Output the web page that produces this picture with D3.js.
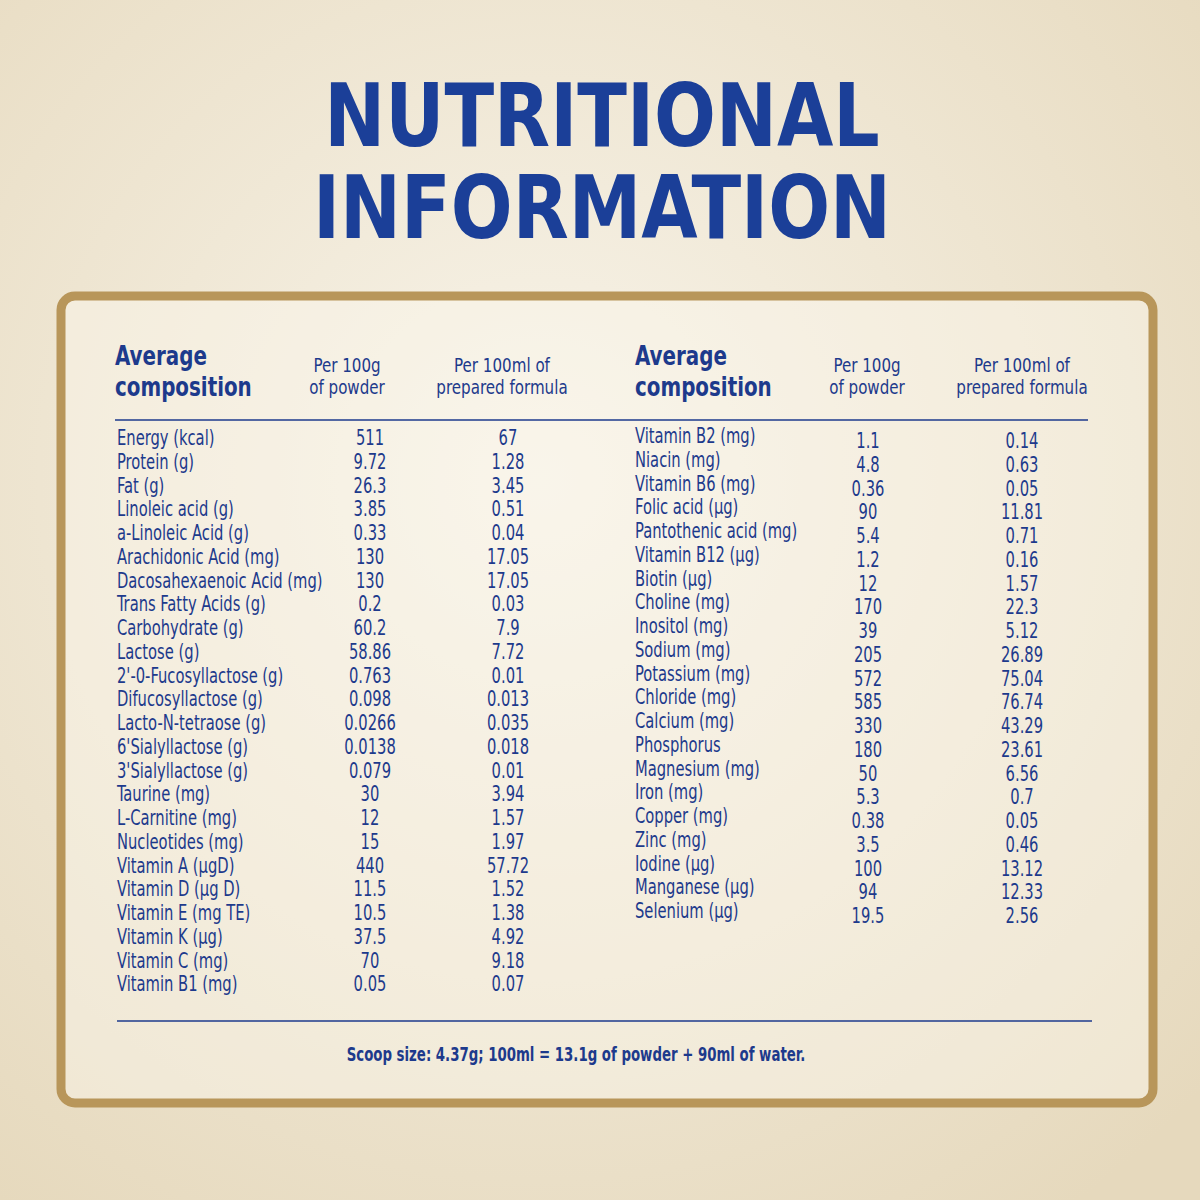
<!DOCTYPE html>
<html><head><meta charset="utf-8">
<script src="https://cdn.jsdelivr.net/npm/d3@7"></script>
<style>body{margin:0;background:#efe7d6}</style>
</head><body><div id="chart"></div>
<script>
// data
var leftNames = ["Energy (kcal)","Protein (g)","Fat (g)","Linoleic acid (g)","a-Linoleic Acid (g)","Arachidonic Acid (mg)","Dacosahexaenoic Acid (mg)","Trans Fatty Acids (g)","Carbohydrate (g)","Lactose (g)","2'-0-Fucosyllactose (g)","Difucosyllactose (g)","Lacto-N-tetraose (g)","6'Sialyllactose (g)","3'Sialyllactose (g)","Taurine (mg)","L-Carnitine (mg)","Nucleotides (mg)","Vitamin A (µgD)","Vitamin D (µg D)","Vitamin E (mg TE)","Vitamin K (µg)","Vitamin C (mg)","Vitamin B1 (mg)"]
var leftPowder = ["511","9.72","26.3","3.85","0.33","130","130","0.2","60.2","58.86","0.763","0.098","0.0266","0.0138","0.079","30","12","15","440","11.5","10.5","37.5","70","0.05"]
var leftFormula = ["67","1.28","3.45","0.51","0.04","17.05","17.05","0.03","7.9","7.72","0.01","0.013","0.035","0.018","0.01","3.94","1.57","1.97","57.72","1.52","1.38","4.92","9.18","0.07"]
var rightNames = ["Vitamin B2 (mg)","Niacin (mg)","Vitamin B6 (mg)","Folic acid (µg)","Pantothenic acid (mg)","Vitamin B12 (µg)","Biotin (µg)","Choline (mg)","Inositol (mg)","Sodium (mg)","Potassium (mg)","Chloride (mg)","Calcium (mg)","Phosphorus","Magnesium (mg)","Iron (mg)","Copper (mg)","Zinc (mg)","Iodine (µg)","Manganese (µg)","Selenium (µg)"]
var rightPowder = ["1.1","4.8","0.36","90","5.4","1.2","12","170","39","205","572","585","330","180","50","5.3","0.38","3.5","100","94","19.5"]
var rightFormula = ["0.14","0.63","0.05","11.81","0.71","0.16","1.57","22.3","5.12","26.89","75.04","76.74","43.29","23.61","6.56","0.7","0.05","0.46","13.12","12.33","2.56"]
var titleLines = ["NUTRITIONAL","INFORMATION"]
var footer = "Scoop size: 4.37g; 100ml = 13.1g of powder + 90ml of water."

var W = 1200, H = 1200, blue = "#1d3a8c", gold = "#b8965a"
var svg = d3.select("#chart").append("svg").attr("width", W).attr("height", H)
  .style("font-family", "'DejaVu Sans Condensed',sans-serif")

var defs = svg.append("defs")
var g = defs.append("radialGradient").attr("id","bg").attr("cx","45%").attr("cy","40%").attr("r","75%")
g.append("stop").attr("offset","0%").attr("stop-color","#f8f4ea")
g.append("stop").attr("offset","100%").attr("stop-color","#e6d9bd")
svg.append("rect").attr("width",W).attr("height",H).attr("fill","url(#bg)")

// narrow text: squeeze horizontally
function txt(sel, x, y, sx) {
  return sel.attr("transform", (d,i) => "translate(" + x(d,i) + "," + y(d,i) + ") scale(" + sx + ",1)")
}

txt(svg.selectAll(".title").data(titleLines).join("text"), () => 602, (d,i) => 146 + i*92, 0.92)
  .attr("text-anchor","middle").attr("fill","#1b3f98")
  .attr("font-weight","bold").attr("font-size", 88).text(d => d)

svg.append("rect").attr("x",61).attr("y",296).attr("width",1092).attr("height",807).attr("rx",14)
  .attr("fill","rgba(250,246,236,0.45)").attr("stroke",gold).attr("stroke-width",9)

function header(x0, xP, xF) {
  txt(svg.selectAll(null).data(["Average","composition"]).join("text"), () => x0, (d,i) => 365 + i*31, 0.85)
    .attr("fill",blue).attr("font-weight","bold").attr("font-size",26).text(d => d)
  ;[["Per 100g","of powder",xP],["Per 100ml of","prepared formula",xF]].forEach(h => {
    txt(svg.selectAll(null).data([h[0],h[1]]).join("text"), () => h[2], (d,i) => 372 + i*22, 0.84)
      .attr("text-anchor","middle").attr("fill",blue).attr("font-size",20).text(d => d)
  })
}
header(115, 347, 502)
header(635, 867, 1022)

svg.append("line").attr("x1",115).attr("x2",1088).attr("y1",420).attr("y2",420).attr("stroke",blue).attr("stroke-width",1.5)
svg.append("line").attr("x1",117).attr("x2",1092).attr("y1",1021).attr("y2",1021).attr("stroke",blue).attr("stroke-width",1.5)

function column(names, pw, fm, x0, xP, xF, y0, dy) {
  var y = d3.scaleLinear().domain([0,1]).range([y0, y0 + 23.75])
  var gg = svg.append("g").attr("fill",blue).attr("font-size",21)
  txt(gg.selectAll(null).data(names).join("text"), () => x0, (d,i) => y(i), 0.78).text(d=>d)
  txt(gg.selectAll(null).data(pw).join("text"), () => xP, (d,i) => y(i)+dy, 0.78)
    .attr("text-anchor","middle").text(d=>d)
  txt(gg.selectAll(null).data(fm).join("text"), () => xF, (d,i) => y(i)+dy, 0.78)
    .attr("text-anchor","middle").text(d=>d)
}
column(leftNames, leftPowder, leftFormula, 117, 370, 508, 445, 0)
column(rightNames, rightPowder, rightFormula, 635, 868, 1022, 443, 5)

txt(svg.append("text"), () => 576, () => 1061, 0.78).attr("text-anchor","middle").attr("fill",blue)
  .attr("font-weight","bold").attr("font-size",19).text(footer)
</script></body></html>
